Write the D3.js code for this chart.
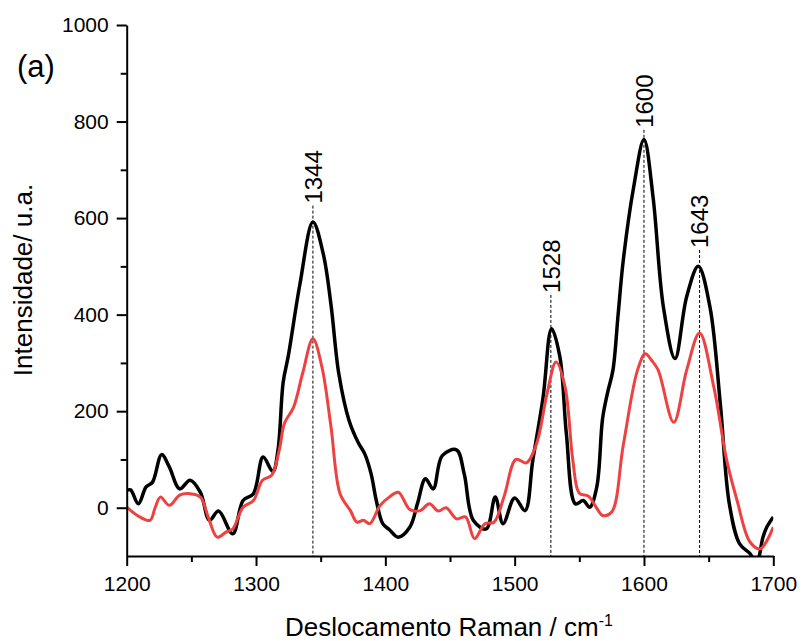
<!DOCTYPE html>
<html>
<head>
<meta charset="utf-8">
<script src="https://cdn.jsdelivr.net/npm/d3@7"></script>
<style>
  body { margin: 0; background: #fff; }
  svg text { font-family: "Liberation Sans", Arial, sans-serif; fill: #000; }
</style>
</head>
<body>
<div id="chart"></div>
<script>
// spectre noir
const shiftBlack = [1200,1203,1209,1215,1220,1227,1233,1241,1249,1257,1264,1271,1282,1290,1298,1305.5,1313,1317,1321,1325,1334,1344,1352,1358,1364,1372,1379,1384,1389,1393,1398,1403,1410,1419,1425,1431,1437,1444,1455,1461,1468,1478,1485,1491,1500,1508,1514,1522,1528.5,1535,1540,1547,1553,1558,1563.5,1568,1572,1576,1580,1584,1592,1600,1607,1615,1624,1633,1642,1651,1659,1666,1674,1682,1687,1692,1695,1700];
const intBlack   = [36,37,8,43,53,110,84,39,57,32,-26,-7,-54,15,29,105,75,120,260,315,464,592,526,420,278,180,135,112,70,15,-33,-45,-61,-40,10,60,39,108,120,70,-26,-44,22,-33,20,-6,98,229,371,312,153,8,15,1,43,185,240,285,400,513,664,763,644,416,309,437,500,416,216,8,-75,-95,-115,-61,-40,-19];

// spectre rouge
const shiftRed = [1200,1205,1210,1218,1222,1226,1233,1241,1249,1257,1263,1270,1277,1282,1290,1298,1305,1312,1318,1322,1329,1336,1344,1351,1358,1365,1373,1378,1383,1388,1396,1403,1410,1419,1427,1434,1441,1447,1455,1462,1469,1477,1484,1492,1501,1509,1517,1525,1532,1539,1545,1550,1557,1563,1568,1575,1584,1595,1601,1606,1611,1623,1633,1643,1654,1664,1672,1682,1690,1700];
const intRed   = [1,-10,-19,-26,0,22,5,26,29,22,-19,-61,-50,-44,1,15,57,67,120,175,208,278,350,291,167,29,-6,-30,-26,-33,5,22,32,-4,-6,8,-7,0,-23,-19,-64,-33,-30,25,100,93,133,236,302,250,98,30,24,1,-16,-9,130,285,319,305,285,177,285,362,250,98,15,-71,-85,-40];

// pics annotés
const peakPos    = [1344, 1528, 1600, 1643];
const peakLabelY = [630, 445, 787, 538];

const xMajor = [1200, 1300, 1400, 1500, 1600, 1700];
const xMinor = [1250, 1350, 1450, 1550, 1650];
const yMajor = [0, 200, 400, 600, 800, 1000];
const yMinor = [100, 300, 500, 700, 900];

const W = 801, H = 641;
let margin = { left: 126.7, right: 773.3, top: 25, bottom: 556 };

const svg = d3.select("#chart").append("svg")
  .attr("width", W).attr("height", H);

let x = d3.scaleLinear().domain([1200, 1700]).range([margin.left, margin.right]);
let y = d3.scaleLinear().domain([-100, 1000]).range([margin.bottom, margin.top]);

svg.append("clipPath").attr("id", "clip")
  .append("rect")
  .attr("x", margin.left).attr("y", margin.top)
  .attr("width", margin.right - margin.left).attr("height", margin.bottom - margin.top);

// lignes pointillées des pics
svg.append("g").selectAll("line")
  .data(peakPos)
  .enter().append("line")
  .attr("x1", d => x(d)).attr("x2", d => x(d))
  .attr("y1", (d, i) => y(peakLabelY[i]) + 2)
  .attr("y2", y(-100))
  .attr("stroke", "#000")
  .attr("stroke-width", 1)
  .attr("stroke-dasharray", "3,2");

let line = d3.line()
  .x(d => x(d[0]))
  .y(d => y(d[1]))
  .curve(d3.curveCatmullRom.alpha(0.5));

const plot = svg.append("g").attr("clip-path", "url(#clip)");

plot.append("path")
  .datum(shiftBlack.map((s, i) => [s, intBlack[i]]))
  .attr("d", line)
  .attr("fill", "none")
  .attr("stroke", "#000")
  .attr("stroke-width", 3.5)
  .attr("stroke-linejoin", "round");

plot.append("path")
  .datum(shiftRed.map((s, i) => [s, intRed[i]]))
  .attr("d", line)
  .attr("fill", "none")
  .attr("stroke", "#ee4242")
  .attr("stroke-width", 3)
  .attr("stroke-linejoin", "round");

// étiquettes des pics
svg.append("g").selectAll("text")
  .data(peakPos)
  .enter().append("text")
  .attr("transform", (d, i) => `translate(${x(d)},${y(peakLabelY[i])}) rotate(-90)`)
  .attr("dy", "0.36em")
  .style("font-size", "24px")
  .text(d => d);

// axes
svg.append("g")
  .attr("transform", `translate(0,${margin.bottom})`)
  .call(d3.axisBottom(x).tickValues(xMajor).tickFormat(d3.format("d"))
    .tickSize(10).tickSizeOuter(0).tickPadding(10));
svg.append("g")
  .attr("transform", `translate(0,${margin.bottom})`)
  .call(d3.axisBottom(x).tickValues(xMinor).tickFormat("").tickSize(6).tickSizeOuter(0))
  .call(g => g.select(".domain").remove());

svg.append("g")
  .attr("transform", `translate(${margin.left},0)`)
  .call(d3.axisLeft(y).tickValues(yMajor).tickFormat(d3.format("d"))
    .tickSize(10).tickSizeOuter(0).tickPadding(8));
svg.append("g")
  .attr("transform", `translate(${margin.left},0)`)
  .call(d3.axisLeft(y).tickValues(yMinor).tickFormat("").tickSize(6).tickSizeOuter(0))
  .call(g => g.select(".domain").remove());

svg.selectAll(".domain, .tick line").attr("stroke", "#000").attr("stroke-width", 2);
svg.selectAll(".tick text")
  .style("font-size", "21px")
  .style("font-family", '"Liberation Sans", Arial, sans-serif')
  .attr("fill", "#000");

// titres
svg.append("text")
  .attr("transform", "translate(32,280) rotate(-90)")
  .style("text-anchor", "middle")
  .style("font-size", "26px")
  .text("Intensidade/ u.a.");

let xt = svg.append("text")
  .attr("x", 449).attr("y", 636)
  .style("text-anchor", "middle")
  .style("font-size", "26px");
xt.append("tspan").text("Deslocamento Raman / cm");
xt.append("tspan").attr("dy", "-10").style("font-size", "16px").text("-1");

svg.append("text")
  .attr("x", 17).attr("y", 77)
  .style("font-size", "31px")
  .text("(a)");
</script>
</body>
</html>
